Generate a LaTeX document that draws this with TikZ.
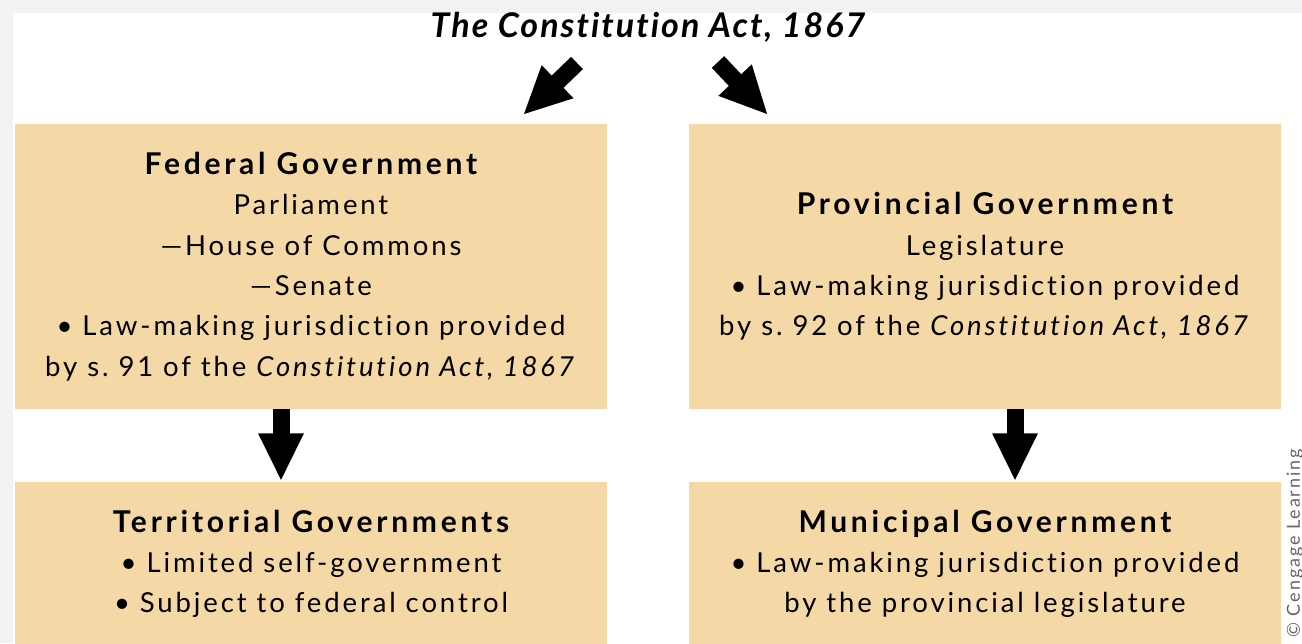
\documentclass[tikz,border=0pt]{standalone}
\usepackage{fontspec}
\setmainfont{Lato}[LetterSpace=10.5,Ligatures=NoCommon,BoldFeatures={LetterSpace=12.5}]
\newfontfamily\titlefont{Lato}[LetterSpace=6,Ligatures=NoCommon]
\usetikzlibrary{arrows.meta}
\definecolor{boxtan}{RGB}{244,217,166}
\definecolor{pagegrey}{RGB}{241,242,244}
\begin{document}
\begin{tikzpicture}[x=1pt,y=-1pt,
  govbox/.style={fill=boxtan,minimum width=592pt,align=center,inner sep=0pt,font=\fontsize{27.5}{40.3}\selectfont},
  bigarrow/.style={line width=17pt,-{Triangle[length=48pt,width=42pt]}}]
\useasboundingbox (0,0) rectangle (1302,643);
\fill[pagegrey] (0,0) rectangle (1302,643);
\fill[white] (13,13) rectangle (1302,643);
\node[font=\titlefont\fontsize{34}{40}\selectfont\bfseries\itshape] (act) at (648,27) {The Constitution Act, 1867};
\node[govbox,minimum height=285pt] (fed) at (311,266.5) {{\fontsize{30}{40.3}\selectfont\bfseries Federal Government}\\Parliament\\—House of Commons\\—Senate\\\textbullet{} Law-making jurisdiction provided\\by s.~91 of the \textit{Constitution Act, 1867}};
\node[govbox,minimum height=285pt] (prov) at (985,266.5) {{\fontsize{30}{40.3}\selectfont\bfseries Provincial Government}\\Legislature\\\textbullet{} Law-making jurisdiction provided\\by s.~92 of the \textit{Constitution Act, 1867}};
\node[govbox,minimum height=165pt] (terr) at (311,564) {{\fontsize{30}{40.3}\selectfont\bfseries Territorial Governments}\\\textbullet{} Limited self-government\\\textbullet{} Subject to federal control};
\node[govbox,minimum height=165pt] (muni) at (985,564) {{\fontsize{30}{40.3}\selectfont\bfseries Municipal Government}\\\textbullet{} Law-making jurisdiction provided\\by the provincial legislature};
\node[rotate=90,anchor=west,text=black!60,font=\fontsize{18}{18}\selectfont] (credit) at (1295,641) {© Cengage Learning};
\coordinate (fedtail) at (577,63);
\coordinate (fedtip) at (523,115);
\coordinate (provtail) at (718,62);
\coordinate (provtip) at (768,115);
\draw[bigarrow] (fedtail) -- (fedtip);
\draw[bigarrow] (provtail) -- (provtip);
\draw[bigarrow] ([xshift=-30pt]fed.south) -- ([xshift=-30pt]terr.north);
\draw[bigarrow] ([xshift=30pt]prov.south) -- ([xshift=30pt]muni.north);
\end{tikzpicture}
\end{document}
